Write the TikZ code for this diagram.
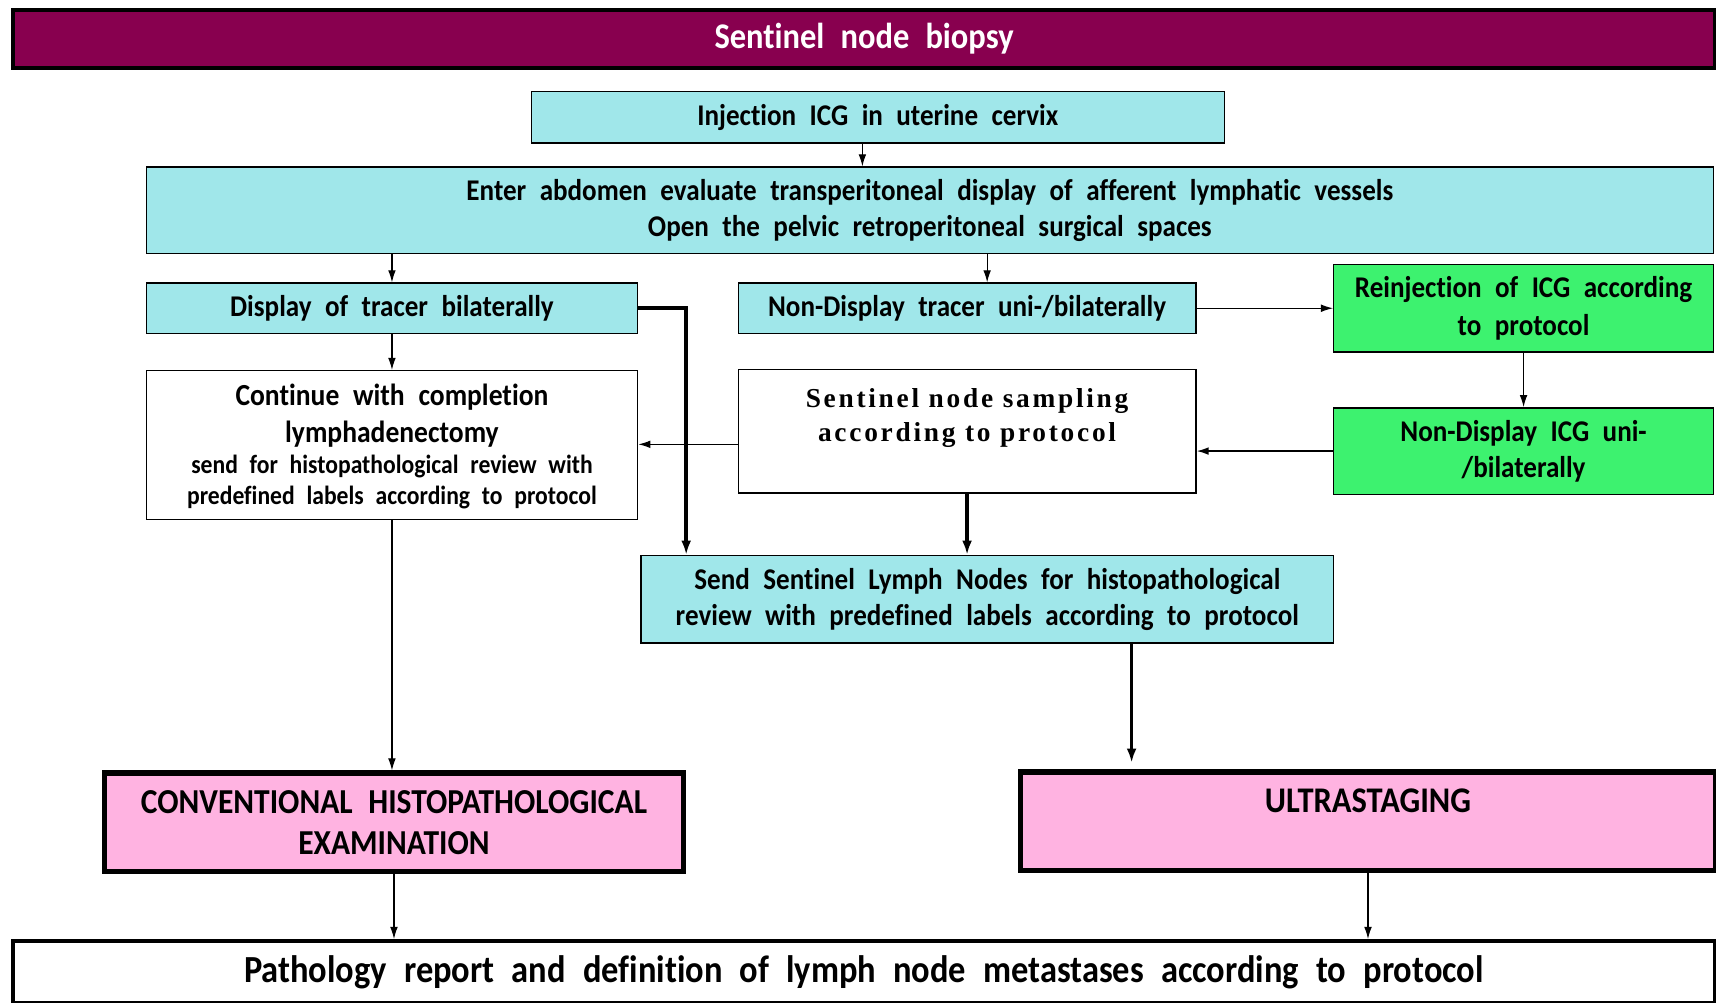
\documentclass[tikz,border=0pt]{standalone}
\usepackage{fontspec}
\setmainfont{Carlito}[FakeStretch=0.9, WordSpace=2.2, Ligatures=NoCommon]
\newfontfamily\sampfont[LetterSpace=10]{Liberation Serif}
\usetikzlibrary{arrows.meta}
\definecolor{titlec}{HTML}{88004F}
\definecolor{cyanc}{HTML}{A0E7EA}
\definecolor{greenc}{HTML}{3DF26F}
\definecolor{pinkc}{HTML}{FFB3E1}
\newcommand{\smallsz}{\fontsize{24}{28}\selectfont}
\begin{document}
\begin{tikzpicture}[x=1pt,y=-1pt,
 box/.style={draw=black, line width=1.3pt, inner sep=2pt, align=center, anchor=north west,
   font=\bfseries\fontsize{27.5}{33}\selectfont},
 cbox/.style={box, fill=cyanc},
 gbox/.style={box, fill=greenc},
 pbox/.style={box, fill=pinkc, line width=5pt},
 arr/.style={-{Latex[length=11pt,width=7pt]}, line width=1pt},
 thickarr/.style={-{Latex[length=13pt,width=9pt]}, line width=3.2pt}]
\useasboundingbox (0,0) rectangle (1568,915.6);

\node[box, fill=titlec, text=white, line width=4pt, minimum width=1555pt, minimum height=53pt,
  font=\bfseries\fontsize{33}{36}\selectfont] (title) at (10,7) {Sentinel node biopsy};

\node[cbox, minimum width=633pt, minimum height=47pt] (inj) at (485,83) {Injection ICG in uterine cervix};
\node[cbox, minimum width=1432pt, minimum height=79pt] (enter) at (133,152)
  {Enter abdomen evaluate transperitoneal display of afferent lymphatic vessels\\Open the pelvic retroperitoneal surgical spaces};
\node[cbox, minimum width=449pt, minimum height=46pt] (disp) at (133,258) {Display of tracer bilaterally};
\node[cbox, minimum width=418pt, minimum height=46pt] (nd) at (674,258) {Non-Display tracer uni-/bilaterally};
\node[gbox, minimum width=347pt, minimum height=80pt, font=\bfseries\fontsize{27.5}{35}\selectfont] (rein) at (1218,241) {Reinjection of ICG according\\to protocol};
\node[box, inner sep=0pt] (cont) at (133,338)
  {\parbox[c][136pt][t]{449pt}{\centering\fontsize{28}{34}\selectfont\rule{0pt}{32pt}Continue with completion\\lymphadenectomy\par\smallsz send for histopathological review with\\predefined labels according to protocol}};
\node[box, inner sep=0pt] (samp) at (674,337)
  {\parbox[c][113pt][t]{418pt}{\centering\sampfont\fontsize{25}{31}\selectfont\rule{0pt}{35pt}Sentinel node sampling\\according to protocol}};
\node[gbox, minimum width=347pt, minimum height=79pt] (ndicg) at (1218,372) {Non-Display ICG uni-\\/bilaterally};
\node[cbox, minimum width=633pt, minimum height=80pt] (send) at (585,507)
  {Send Sentinel Lymph Nodes for histopathological\\review with predefined labels according to protocol};
\node[pbox, minimum width=529pt, minimum height=90pt, font=\bfseries\fontsize{32}{38}\selectfont] (conv) at (93,704)
  {CONVENTIONAL HISTOPATHOLOGICAL\\EXAMINATION};
\node[pbox, inner sep=0pt] (ultra) at (930,703)
  {\parbox[c][90pt][t]{635pt}{\centering\fontsize{33}{36}\selectfont\rule{0pt}{37pt}ULTRASTAGING}};
\node[box, line width=3.5pt, minimum width=1555pt, minimum height=57pt, font=\bfseries\fontsize{35}{38}\selectfont] (path) at (10,858)
  {Pathology report and definition of lymph node metastases according to protocol};

\coordinate (a1) at (788,130);
\coordinate (e2) at (902,231);
\coordinate (b1) at (627,0);
\coordinate (c1) at (0,406);
\coordinate (d1) at (1034,697);

\draw[arr] (a1 |- inj.south) -- (a1 |- enter.north);
\draw[arr] (disp.north |- enter.south) -- (disp.north);
\draw[arr] (e2 |- enter.south) -- (e2 |- nd.north);
\draw[arr] (disp.south) -- (cont.north);
\draw[thickarr] (disp.east) -| (b1 |- send.north);
\draw[arr] (nd.east) -- (nd.east -| rein.west);
\draw[arr] (rein.south) -- (ndicg.north);
\draw[arr, line width=1.6pt] (ndicg.west) -- (ndicg.west -| samp.east);
\draw[arr] (c1 -| samp.west) -- (c1 -| cont.east);
\draw[thickarr] (samp.south) -- (samp.south |- send.north);
\draw[thickarr, line width=2.6pt] (d1 |- send.south) -- (d1);
\draw[arr] (cont.south) -- (cont.south |- conv.north);
\draw[arr] (conv.south) -- (conv.south |- path.north);
\draw[arr] (ultra.south) -- (ultra.south |- path.north);
\end{tikzpicture}
\end{document}
